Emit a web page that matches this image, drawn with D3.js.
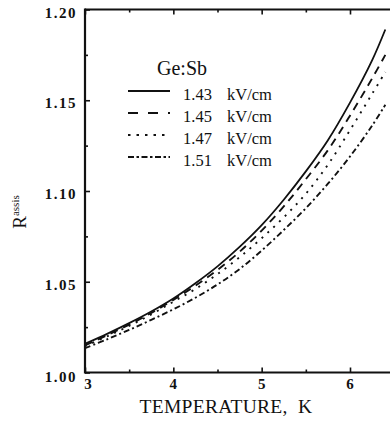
<!DOCTYPE html>
<html><head><meta charset="utf-8">
<script src="https://cdn.jsdelivr.net/npm/d3@7/dist/d3.min.js"></script>
<style>
html,body{margin:0;padding:0;background:#fff;}
svg{display:block;}
text{font-family:"Liberation Serif","DejaVu Serif",serif;fill:#111;}
</style></head>
<body>
<script>
// ---- data ----
const temps   = [3.0,3.25,3.5,3.75,4.0,4.25,4.5,4.75,5.0,5.25,5.5,5.75,6.0,6.25,6.4];
const r143    = [1.0158,1.0213,1.0272,1.0336,1.0408,1.0492,1.0585,1.0692,1.0812,1.0952,1.1108,1.128,1.1487,1.172,1.189];
const r145    = [1.015,1.0205,1.0264,1.0328,1.0400,1.0478,1.0565,1.0665,1.0782,1.0915,1.1065,1.1225,1.1415,1.162,1.175];
const r147    = [1.0145,1.0199,1.0257,1.032,1.039,1.046,1.0542,1.0635,1.074,1.0855,1.0985,1.1145,1.1335,1.1535,1.1655];
const r151    = [1.0134,1.0183,1.0235,1.029,1.0348,1.0412,1.0485,1.057,1.0672,1.0785,1.0905,1.104,1.119,1.136,1.1475];
const fieldLabels = ["1.43","1.45","1.47","1.51"];
const unitLabel = "kV/cm";
const xTicks = [3,4,5,6];
const xMinor = [3.5,4.5,5.5];
const yTicks = [1.00,1.05,1.10,1.15,1.20];
const yMinor = [1.025,1.075,1.125,1.175];

const W = 390, H = 421;
const svg = d3.select("body").append("svg").attr("width",W).attr("height",H);

const x = d3.scaleLinear().domain([3,6]).range([85,350]);
const y = d3.scaleLinear().domain([1.00,1.20]).range([372.5,9.5]);

const series = [r143,r145,r147,r151];
const dashes = [null,"8,6","2,6","6,3,2,3"];
const legendDash = [null,"10,10","2.5,6","6,2.5,2.5,2.5"];

svg.append("defs").append("clipPath").attr("id","clip")
  .append("rect").attr("x",85).attr("y",9.5).attr("width",W-85).attr("height",363);

const line = d3.line().x((d,i)=>x(temps[i])).y(d=>y(d)).curve(d3.curveCatmullRom);
const g = svg.append("g").attr("clip-path","url(#clip)");
series.forEach((s,k)=>{
  g.append("path").attr("d",line(s)).attr("fill","none").attr("stroke","#111")
    .attr("stroke-width",k===0?1.8:1.9).attr("stroke-dasharray",dashes[k]);
});

// axes
svg.append("line").attr("x1",85).attr("x2",W).attr("y1",y(1.0)).attr("y2",y(1.0)).attr("stroke","#111").attr("stroke-width",2);
svg.append("line").attr("x1",85).attr("x2",W).attr("y1",y(1.2)).attr("y2",y(1.2)).attr("stroke","#111").attr("stroke-width",2);
svg.append("line").attr("x1",x(3)).attr("x2",x(3)).attr("y1",y(1.0)+1).attr("y2",y(1.2)-1).attr("stroke","#111").attr("stroke-width",2.2);

const noDomain = a=>a.select(".domain").remove();
svg.append("g").attr("transform",`translate(0,${y(1.0)})`).call(d3.axisBottom(x).tickValues(xTicks).tickSize(-5).tickFormat("")).call(noDomain);
svg.append("g").attr("transform",`translate(0,${y(1.0)})`).call(d3.axisBottom(x).tickValues(xMinor).tickSize(-3).tickFormat("")).call(noDomain);
svg.append("g").attr("transform",`translate(0,${y(1.2)})`).call(d3.axisTop(x).tickValues(xTicks).tickSize(-5).tickFormat("")).call(noDomain);
svg.append("g").attr("transform",`translate(0,${y(1.2)})`).call(d3.axisTop(x).tickValues(xMinor).tickSize(-3).tickFormat("")).call(noDomain);
svg.append("g").attr("transform",`translate(${x(3)},0)`).call(d3.axisLeft(y).tickValues(yTicks).tickSize(-5).tickFormat("")).call(noDomain);
svg.append("g").attr("transform",`translate(${x(3)},0)`).call(d3.axisLeft(y).tickValues(yMinor).tickSize(-3).tickFormat("")).call(noDomain);
svg.selectAll(".tick line").attr("stroke","#111").attr("stroke-width",1.6);

// tick labels
svg.selectAll(".xl").data(xTicks).enter().append("text")
  .attr("x",d=>x(d)+(d===3?3:0)).attr("y",389).attr("text-anchor","middle")
  .attr("font-size",15).attr("font-weight","bold").text(d=>d);
svg.selectAll(".yl").data(yTicks).enter().append("text")
  .attr("x",77).attr("y",d=>y(d)+(d===1.0?9:8)).attr("text-anchor","end")
  .attr("font-size",15).attr("font-weight","bold").attr("letter-spacing",1.5).text(d=>d.toFixed(2));

// axis titles
svg.append("text").attr("x",226).attr("y",413).attr("text-anchor","middle")
  .attr("font-size",19.5).attr("letter-spacing",0.3).attr("xml:space","preserve").style("white-space","pre")
  .text("TEMPERATURE,  K");
const yt = svg.append("text").attr("transform","translate(26,212) rotate(-90)").attr("text-anchor","middle");
yt.append("tspan").attr("font-size",19).text("R");
yt.append("tspan").attr("font-size",11).attr("dy",-7).text("assis");

// legend
svg.append("text").attr("x",157).attr("y",75).attr("font-size",20).text("Ge:Sb");
const rowsY = [91,113,135,157];
fieldLabels.forEach((lab,k)=>{
  svg.append("line").attr("x1",128).attr("x2",170).attr("y1",rowsY[k]).attr("y2",rowsY[k])
    .attr("stroke","#111").attr("stroke-width",1.8).attr("stroke-dasharray",legendDash[k]);
  svg.append("text").attr("x",183).attr("y",rowsY[k]+9).attr("font-size",16.5).text(lab);
  svg.append("text").attr("x",227).attr("y",rowsY[k]+9).attr("font-size",16.5).text(unitLabel);
});
</script>
</body></html>
